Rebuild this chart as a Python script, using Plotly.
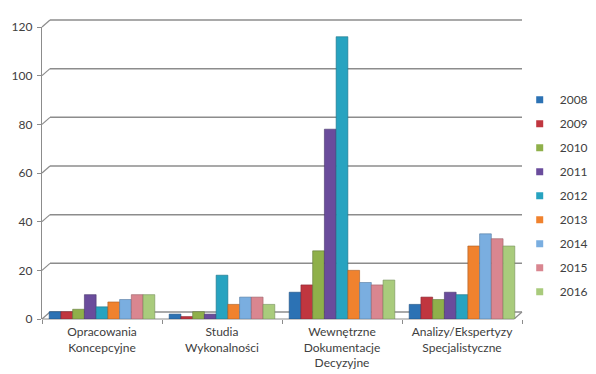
import plotly.graph_objects as go

# Categories and yearly counts
categories = [
    "Opracowania<br>Koncepcyjne",
    "Studia<br>Wykonalności",
    "Wewnętrzne<br>Dokumentacje<br>Decyzyjne",
    "Analizy/Ekspertyzy<br>Specjalistyczne",
]
years = ["2008", "2009", "2010", "2011", "2012", "2013", "2014", "2015", "2016"]
v2008 = [3, 2, 11, 6]
v2009 = [3, 1, 14, 9]
v2010 = [4, 3, 28, 8]
v2011 = [10, 2, 78, 11]
v2012 = [5, 18, 116, 10]
v2013 = [7, 6, 20, 30]
v2014 = [8, 9, 15, 35]
v2015 = [10, 9, 14, 33]
v2016 = [10, 6, 16, 30]
series = [v2008, v2009, v2010, v2011, v2012, v2013, v2014, v2015, v2016]

colors = ["#2C72B4", "#C0363F", "#8FB04A", "#6A4C9C", "#27A3C0",
          "#F0822E", "#7AAEE0", "#D98690", "#A9CB7C"]
edges = ["#1D4F80", "#862530", "#62793A", "#48356C", "#1B7287",
         "#A85A20", "#5479A0", "#9A5F66", "#76905A"]

y_ticks = [0, 20, 40, 60, 80, 100, 120]
y_max = 120

W, H = 596, 374
ml, mr, mt, mb = 42, 74, 27, 55
plot_w = W - ml - mr
plot_h = H - mt - mb
# depth offset of the back wall (pixels)
dx, dy = 8, 7

fig = go.Figure()
for i, (yr, vals) in enumerate(zip(years, series)):
    fig.add_trace(go.Bar(
        x=categories, y=vals, name=yr,
        marker=dict(color=colors[i], line=dict(color=edges[i], width=0.6)),
        showlegend=False,
    ))
# small square legend keys
for i, yr in enumerate(years):
    fig.add_trace(go.Scatter(
        x=[None], y=[None], mode="markers", name=yr,
        marker=dict(symbol="square", size=7, color=colors[i]),
        showlegend=True, legendgroup=yr,
    ))

# back-wall gridlines with short depth connectors from the front axis
shapes = []
grid_col = "#8C8C8C"
ox, oy = dx / plot_w, dy / plot_h
for t in y_ticks:
    yp = t / y_max
    shapes.append(dict(type="line", xref="paper", yref="paper",
                       x0=ox, x1=1, y0=yp + oy, y1=yp + oy,
                       line=dict(color=grid_col, width=1.5), layer="below"))
    shapes.append(dict(type="line", xref="paper", yref="paper",
                       x0=0, x1=ox, y0=yp, y1=yp + oy,
                       line=dict(color=grid_col, width=1.2), layer="below"))
# floor front edge and right depth edge
shapes.append(dict(type="line", xref="paper", yref="paper",
                   x0=0, x1=1 - ox, y0=0, y1=0,
                   line=dict(color=grid_col, width=1.2), layer="below"))
shapes.append(dict(type="line", xref="paper", yref="paper",
                   x0=1 - ox, x1=1, y0=0, y1=oy,
                   line=dict(color=grid_col, width=1.2), layer="below"))

fig.update_layout(
    width=W, height=H,
    margin=dict(l=ml, r=mr, t=mt, b=mb, pad=0, autoexpand=False),
    paper_bgcolor="white", plot_bgcolor="white",
    barmode="group", bargap=0.12, bargroupgap=0,
    font=dict(family="Lato, Open Sans, sans-serif", size=12, color="#404040"),
    shapes=shapes,
    showlegend=True,
    legend=dict(xref="container", yref="container",
                x=0.872, y=0.772, xanchor="left", yanchor="top",
                maxheight=360,
                font=dict(size=12, color="#404040"),
                tracegroupgap=5, itemwidth=30, bgcolor="rgba(0,0,0,0)"),
    xaxis=dict(range=[-0.5, 3.5], showgrid=False, showline=False,
               ticks="outside", tickson="boundaries", ticklen=4,
               tickcolor=grid_col, ticklabelstandoff=4, automargin=False,
               tickfont=dict(size=12, color="#404040"),
               fixedrange=True),
    yaxis=dict(range=[0, y_max], tickvals=y_ticks, showgrid=False,
               zeroline=False, showline=True, linecolor=grid_col,
               linewidth=1.2, ticks="outside", ticklen=4, tickcolor=grid_col,
               ticklabelstandoff=2, automargin=False,
               tickfont=dict(size=12, color="#404040"), fixedrange=True),
)

fig.write_html("out.html")
